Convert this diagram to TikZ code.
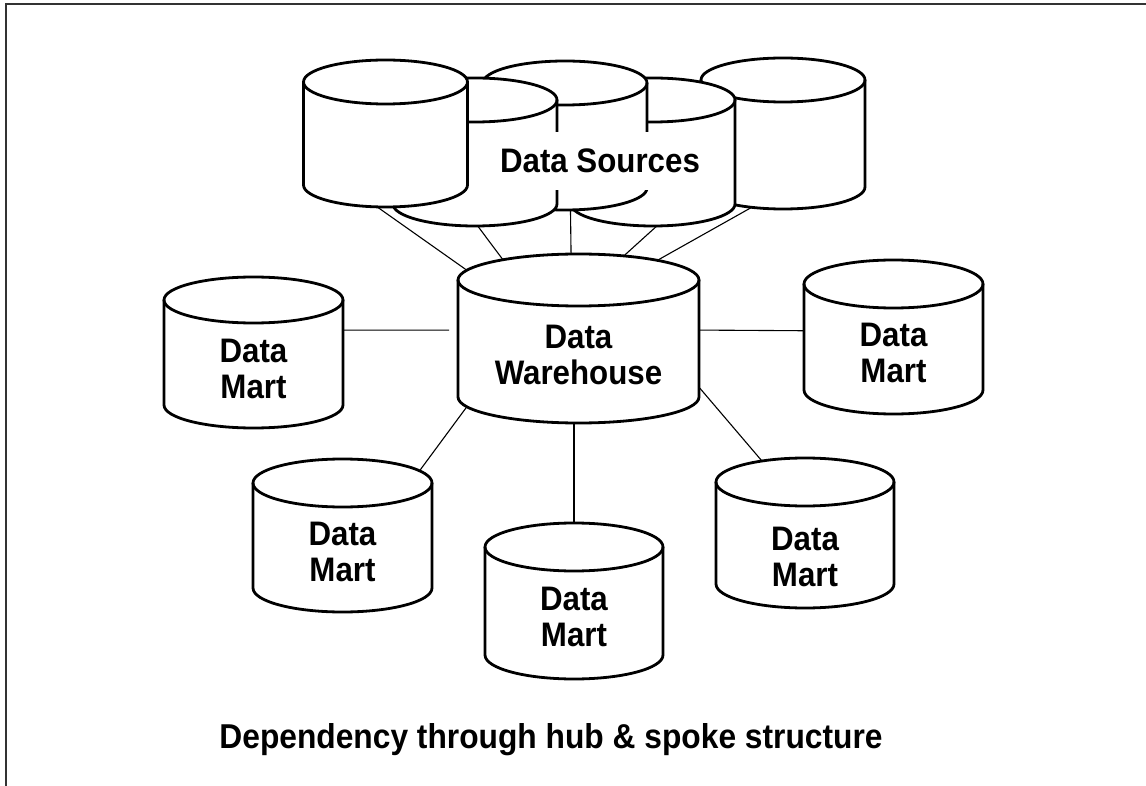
\documentclass[tikz,border=0pt]{standalone}
\usepackage{fontspec}
\newfontfamily\lblfont{Liberation Sans}[FakeStretch=0.92]
\usetikzlibrary{shapes.geometric}
\tikzset{
  cylline/.style={draw=black, line width=2.8pt, line join=round},
  conn/.style={draw=black, line width=1.1pt},
  rim/.style={ellipse, draw=none, inner sep=0pt, outer sep=0pt},
  bodybox/.style={rectangle, draw=none, inner sep=0pt, outer sep=0pt},
  lbl/.style={font=\lblfont\bfseries\fontsize{34}{36}\selectfont, align=center, inner sep=0pt},
  frame/.style={draw=black!80, line width=2pt},
}
\def\lbloff{16}
% name, cx, top, bottom, rx, ry, label   (pixel coordinates, y downwards)
\newcommand\dbcyl[7]{%
  \fill[white] ({#2-#5},{-#3}) -- ({#2-#5},{-#4})
     arc[start angle=180,end angle=360,x radius=#5pt,y radius=#6pt]
     -- ({#2+#5},{-#3})
     arc[start angle=0,end angle=180,x radius=#5pt,y radius=#6pt] -- cycle;
  \draw[cylline] ({#2-#5},{-#3}) -- ({#2-#5},{-#4})
     arc[start angle=180,end angle=360,x radius=#5pt,y radius=#6pt]
     -- ({#2+#5},{-#3});
  \draw[cylline] (#2,{-#3}) ellipse[x radius=#5pt, y radius=#6pt];
  \node[rim, minimum width={2*#5pt}, minimum height={2*#6pt}] (#1-t) at (#2,{-#3}) {};
  \node[rim, minimum width={2*#5pt}, minimum height={2*#6pt}] (#1-b) at (#2,{-#4}) {};
  \node[bodybox, minimum width={2*#5pt}, minimum height={(#4-#3)*1pt}] (#1) at (#2,{-(#3+#4)/2}) {};
  \node[lbl] (#1-l) at (#2,{-(#3+#4)/2-\lbloff}) {#7};
}
\begin{document}
\begin{tikzpicture}[x=1pt,y=1pt]
\useasboundingbox (0,0) rectangle (1146,-786);
\fill[white] (0,0) rectangle (1146,-786);
\draw[frame] (6,-786) -- (6,-4) -- (1146,-4);

% data sources, back to front
\dbcyl{dsE}{783}{80}{187}{82}{22}{}
\dbcyl{dsD}{653}{100}{204}{82}{22}{}
\dbcyl{dsC}{565}{83}{188}{82}{22}{}
\dbcyl{dsB}{475}{100}{204}{82}{22}{}
\dbcyl{dsA}{385.5}{82}{185}{82}{22}{}
\node[lbl, fill=white, inner xsep=3pt, minimum height=58pt] (ds) at (600,-161) {Data Sources};

% warehouse and marts
\dbcyl{wh}{578.5}{280}{397}{120.5}{26}{Data\\Warehouse}
\dbcyl{dmA}{253.5}{300}{405}{89.5}{23}{Data\\Mart}
\dbcyl{dmB}{893.5}{284}{390}{89.5}{24}{Data\\Mart}
\dbcyl{dmC}{342.5}{483}{588}{89.5}{24}{Data\\Mart}
\dbcyl{dmD}{574}{547}{655}{89}{24}{Data\\Mart}
\def\lbloff{24}
\dbcyl{dmE}{805}{482}{584}{89}{24}{Data\\Mart}

% connectors
\draw[conn] (dsA-b.249) -- (wh-t.175);
\draw[conn] (dsB-b.277) -- (wh-t.165);
\draw[conn] (dsC-b.284) -- (wh-t.106);
\draw[conn] (dsD-b.280) -- (wh-t.28);
\draw[conn] (dsE-b.213) -- (wh-t.14);
\draw[conn, shorten >=9pt] (dmA.14) -- (wh.176);
\draw[conn] (wh.4) -- (dmB.176);
\draw[conn] (dmC-t.9) -- (wh-b.185);
\draw[conn] (dmD-t.north) -- (dmD-t.north |- wh-b.south);
\draw[conn] (wh.338) -- (dmE-t.154);

\node[lbl, font=\lblfont\bfseries\fontsize{34.5}{40}\selectfont] (cap) at (551,-740) {Dependency through hub \& spoke structure};
\end{tikzpicture}
\end{document}
